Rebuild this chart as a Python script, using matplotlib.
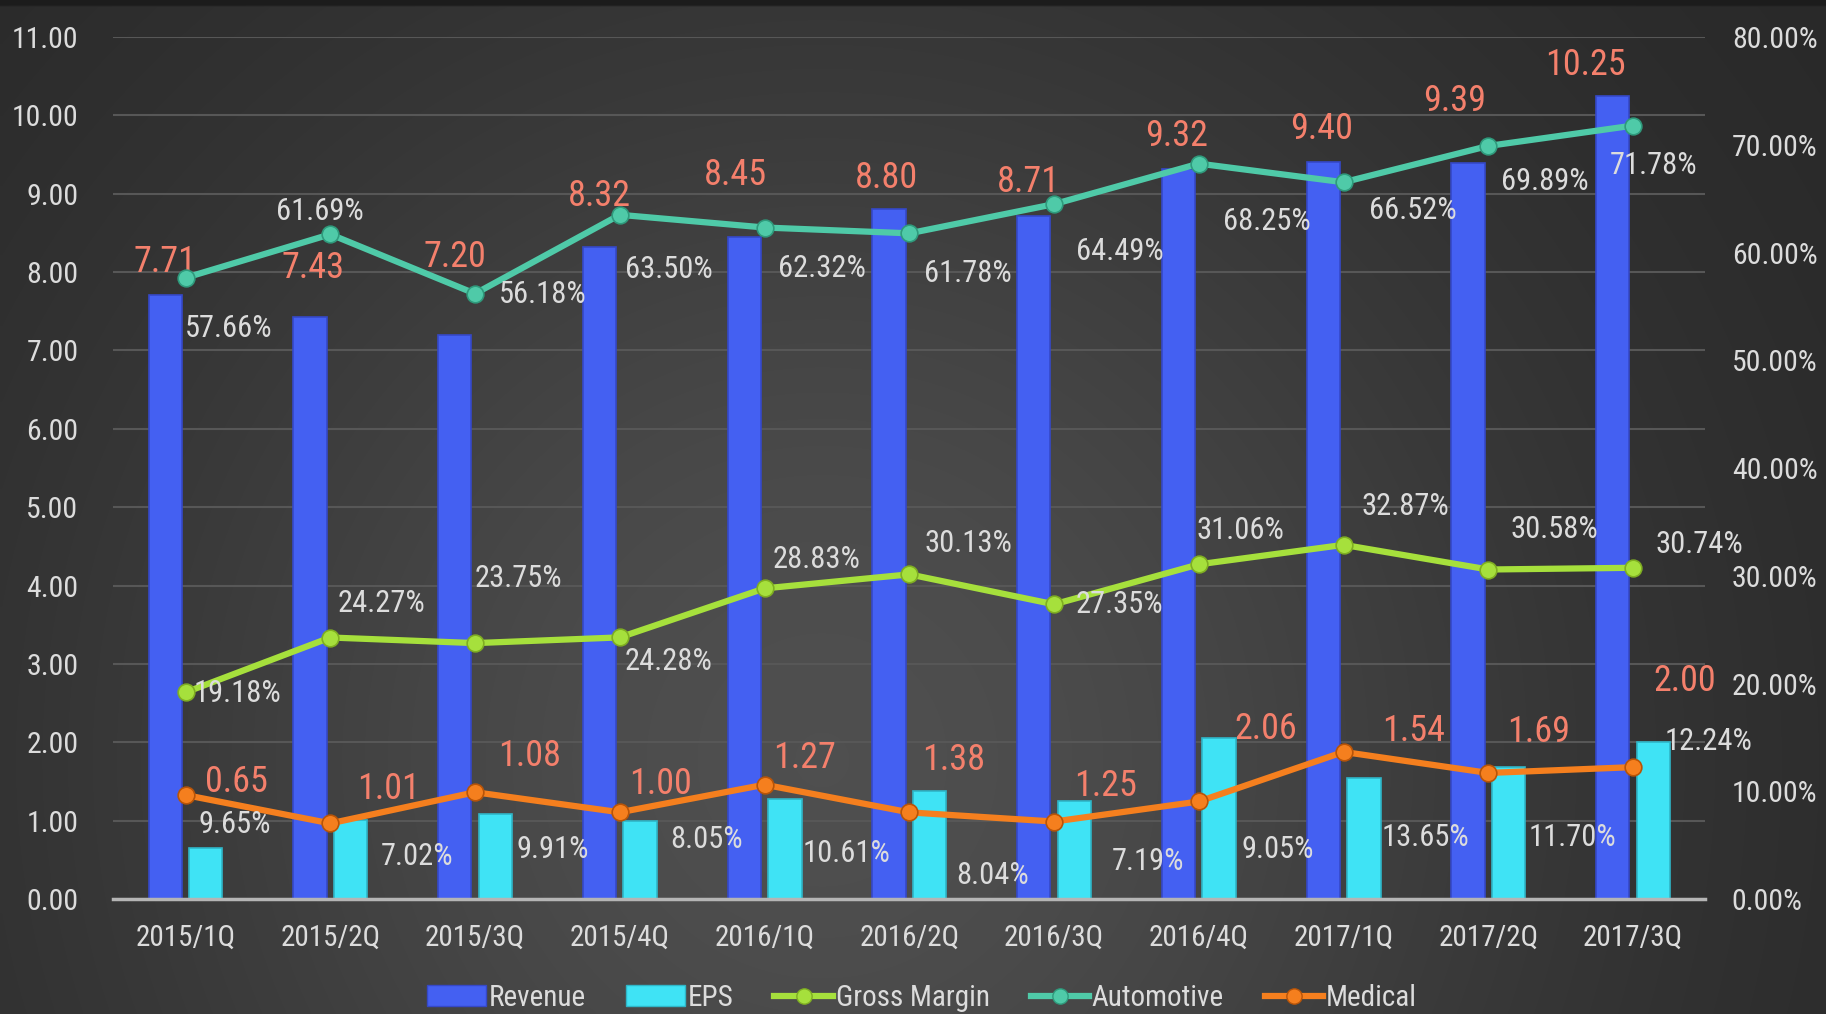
import numpy as np
import matplotlib
matplotlib.use("Agg")
import matplotlib.pyplot as plt
from matplotlib.lines import Line2D
from matplotlib.patches import Patch

plt.rcParams["font.family"] = ["Liberation Sans Narrow", "Roboto Condensed", "Liberation Sans", "DejaVu Sans"]

quarters = ["2015/1Q", "2015/2Q", "2015/3Q", "2015/4Q", "2016/1Q", "2016/2Q",
            "2016/3Q", "2016/4Q", "2017/1Q", "2017/2Q", "2017/3Q"]
revenue = [7.71, 7.43, 7.20, 8.32, 8.45, 8.80, 8.71, 9.32, 9.40, 9.39, 10.25]
eps = [0.65, 1.01, 1.08, 1.00, 1.27, 1.38, 1.25, 2.06, 1.54, 1.69, 2.00]
gross_margin = [19.18, 24.27, 23.75, 24.28, 28.83, 30.13, 27.35, 31.06, 32.87, 30.58, 30.74]
automotive = [57.66, 61.69, 56.18, 63.50, 62.32, 61.78, 64.49, 68.25, 66.52, 69.89, 71.78]
medical = [9.65, 7.02, 9.91, 8.05, 10.61, 8.04, 7.19, 9.05, 13.65, 11.70, 12.24]

# label offsets (pixels) - hand placed like in the original
rev_dx = [0, 3, 0, 0, -9, -3, -5, -2, -2, -13, -27]
rev_dy = [33, 49, 78, 51, 62, 31, 34, 33, 33, 62, 31]
eps_dx = [31, 38, 34, 20, 20, 24, 31, 47, 50, 30, 31]
eps_dy = [66, 31, 58, 37, 41, 31, 15, 9, 47, 35, 61]
gm_dx = [52, 51, 43, 49, 52, 59, 65, 42, 62, 66, 66]
gm_dy = [-1, 34, 65, -24, 29, 31, 0, 34, 38, 40, 23]
auto_dx = [43, -10, 68, 49, 57, 59, 66, 68, 69, 56, 20]
auto_dy = [-51, 23, -1, -55, -41, -40, -47, -58, -28, -36, -40]
med_dx = [49, 87, 78, 87, 82, 83, 94, 79, 82, 84, 75]
med_dy = [-29, -33, -57, -27, -69, -63, -40, -48, -86, -65, 26]

C_REV = "#4460f2"
C_EPS = "#3fe3f5"
C_GM = "#a6e03c"
C_AUTO = "#4fcaa8"
C_MED = "#f57f1e"
C_LBL = "#f4806c"
C_TXT = "#dcdcdc"

fig = plt.figure(figsize=(18.26, 10.14), dpi=100)

# background gradient
bg = fig.add_axes([0, 0, 1, 1], zorder=-10)
gx, gy = np.meshgrid(np.linspace(0, 1, 400), np.linspace(0, 1, 507))
shade = 0.15 + 0.16 * np.exp(-((gx - 0.45) ** 2) / 0.18 - ((gy - 0.75) ** 2) / 0.6)
shade[:3, :] = 0.11
bg.imshow(np.dstack([shade] * 3), aspect="auto", extent=[0, 1, 1, 0], interpolation="bilinear")
bg.axis("off")

ax = fig.add_axes([0.062, 0.1134, 0.872, 0.8501])
ax.set_facecolor("none")
x = np.arange(len(quarters))
w = 0.23
ax.bar(x - 0.14, revenue, w, color=C_REV, edgecolor="#3548c8", linewidth=1.2, zorder=2)
ax.bar(x + 0.14, eps, w, color=C_EPS, edgecolor="#2fb6c8", linewidth=1.2, zorder=2)
ax.set_xlim(-0.5, len(quarters) - 0.5)
ax.set_ylim(0, 11)
ax.set_yticks(np.arange(0, 12, 1))
ax.set_yticklabels([f"{v:.2f}" for v in np.arange(0, 12, 1)])
ax.set_xticks(x)
ax.set_xticklabels(quarters)
ax.grid(axis="y", color="#575757", linewidth=1.5, zorder=0)
ax.set_axisbelow(True)
for s in ["top", "right", "left"]:
    ax.spines[s].set_visible(False)
ax.spines["bottom"].set_color("#b5b5b5")
ax.spines["bottom"].set_linewidth(2.5)
ax.tick_params(axis="both", length=0, colors=C_TXT)
ax.tick_params(axis="x", pad=18, labelsize=21)
ax.tick_params(axis="y", pad=25, labelsize=21.5)

for i in range(len(quarters)):
    ax.annotate(f"{revenue[i]:.2f}", (x[i] - 0.14, revenue[i]), xytext=(rev_dx[i], rev_dy[i]),
                textcoords="offset pixels", ha="center", va="center", color=C_LBL, fontsize=26)
    ax.annotate(f"{eps[i]:.2f}", (x[i] + 0.14, eps[i]), xytext=(eps_dx[i], eps_dy[i]),
                textcoords="offset pixels", ha="center", va="center", color=C_LBL, fontsize=26)

ax2 = ax.twinx()
ax2.set_ylim(0, 80)
ax2.set_yticks(np.arange(0, 90, 10))
ax2.set_yticklabels([f"{v:.2f}%" for v in np.arange(0, 90, 10)])
ax2.tick_params(axis="y", length=0, colors=C_TXT, labelsize=21.5, pad=19)
for s in ax2.spines.values():
    s.set_visible(False)

for vals, col, edge, dxs, dys in [(gross_margin, C_GM, "#7fae22", gm_dx, gm_dy),
                                  (automotive, C_AUTO, "#2f9a7c", auto_dx, auto_dy),
                                  (medical, C_MED, "#b85408", med_dx, med_dy)]:
    ax2.plot(x, vals, color=col, linewidth=4.5, marker="o", markersize=12,
             markerfacecolor=col, markeredgecolor=edge, markeredgewidth=1.2, zorder=3)
    for i in range(len(quarters)):
        ax2.annotate(f"{vals[i]:.2f}%", (x[i], vals[i]), xytext=(dxs[i], dys[i]),
                     textcoords="offset pixels", ha="center", va="center", color=C_TXT, fontsize=22)

handles = [Patch(facecolor=C_REV, edgecolor="#3548c8"),
           Patch(facecolor=C_EPS, edgecolor="#2fb6c8"),
           Line2D([0], [0], color=C_GM, lw=4.5, marker="o", markersize=11, markeredgecolor="#7fae22"),
           Line2D([0], [0], color=C_AUTO, lw=4.5, marker="o", markersize=11, markeredgecolor="#2f9a7c"),
           Line2D([0], [0], color=C_MED, lw=4.5, marker="o", markersize=11, markeredgecolor="#b85408")]
leg = fig.legend(handles, ["Revenue", "EPS", "Gross Margin", "Automotive", "Medical"],
                 loc="center", bbox_to_anchor=(0.505, 0.016), ncol=5, frameon=False,
                 fontsize=21, handlelength=2.0, handletextpad=0.1, columnspacing=1.4)
for t in leg.get_texts():
    t.set_color(C_TXT)

fig.savefig("out.png", dpi=100)
